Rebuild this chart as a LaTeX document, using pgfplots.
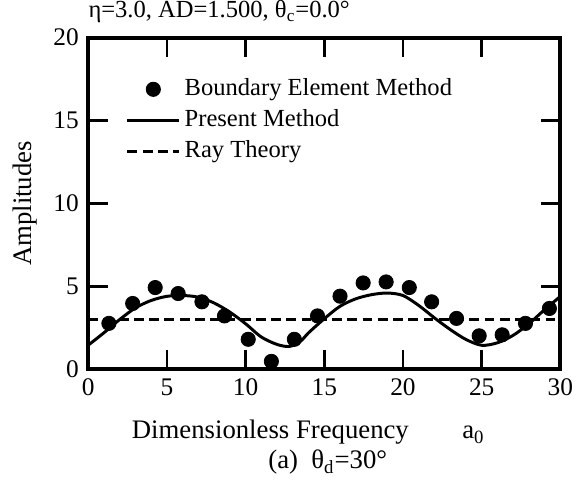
\documentclass[border=0pt]{standalone}
\usepackage{fontspec}
\setmainfont{Liberation Serif}
\usepackage{pgfplots}
\pgfplotsset{compat=1.18}
\pgfplotsset{
  linelegend/.style={legend image code/.code={\draw[##1] (0cm,0cm) -- (0.92cm,0cm);}},
  dotlegend/.style={legend image code/.code={\draw[##1] plot coordinates {(0.46cm,0cm)};}},
}
\begin{document}
\fontsize{13.5}{16}\selectfont
\begin{tikzpicture}
\begin{axis}[name=ax,
  scale only axis,
  width=238.5pt, height=167.5pt,
  xmin=0, xmax=30, ymin=0, ymax=20,
  xtick={0,5,...,30}, ytick={0,5,...,20},
  tick align=inside,
  major tick length=10pt,
  every tick/.style={line width=1.3pt, black},
  axis line style={line width=2pt},
  minor tick num=0,
  /pgf/number format/assume math mode=true,
  tick label style={font=\fontsize{12.8}{15}\selectfont},
  clip=false,
  xlabel={Dimensionless Frequency\hspace{2.0em}a\textsubscript{0}},
  xlabel style={at={(axis description cs:0.466,-0.19)}, anchor=center},
  ylabel={Amplitudes},
  ylabel style={at={(axis description cs:-0.134,0.5)}, anchor=center},
  legend style={draw=none, fill=none, at={(axis description cs:0.075,0.895)}, anchor=north west,
    row sep=1pt, font=\fontsize{12.4}{15}\selectfont, inner sep=1pt},
  legend cell align=left,
]
\addplot[only marks, mark=*, mark size=3.6pt, black, dotlegend]
coordinates {
(1.32,2.77) (2.83,3.97) (4.26,4.93) (5.72,4.57) (7.23,4.07) (8.66,3.22)
(10.17,1.81) (11.64,0.48) (13.1,1.81) (14.57,3.22) (16.0,4.41) (17.47,5.21)
(18.93,5.27) (20.4,4.93) (21.82,4.07) (23.4,3.07) (24.84,2.02) (26.3,2.08)
(27.78,2.77) (29.3,3.67)
};
\addlegendentry{Boundary Element Method}
\addplot[black, line width=1.5pt, smooth, no marks, linelegend] coordinates {
(0,1.45) (1,2.2) (2,3.0) (3,3.7) (4,4.15) (5,4.4) (6,4.45) (7,4.35) (8,4.0)
(9,3.45) (10,2.75) (11,1.95) (12,1.5) (12.8,1.38) (13.5,1.7) (14,2.2) (15,3.05)
(16,3.8) (17,4.25) (18,4.5) (19,4.6) (20,4.45) (21,3.85) (22,3.1) (23,2.4)
(24,1.8) (25,1.45) (26,1.6) (27,2.05) (28,2.75) (29,3.6) (30,4.4)
};
\addlegendentry{Present Method}
\addplot[black, line width=1.5pt, dash pattern=on 5pt off 2.7pt, no marks, linelegend] coordinates {
(0,3.0) (30,3.0)
};
\addlegendentry{Ray Theory}
\end{axis}
\node[anchor=west, inner sep=0pt, font=\fontsize{12.4}{15}\selectfont]
  at ([yshift=13pt]ax.north west) {η=3.0, AD=1.500, θ\textsubscript{c}=0.0°};
\node[anchor=center, inner sep=0pt] at ([xshift=121pt,yshift=-47pt]ax.south west) {(a)\ \ θ\textsubscript{d}=30°};
\path ([xshift=-44.5pt,yshift=-62pt]ax.south west) rectangle ([xshift=8pt,yshift=19pt]ax.north east);
\end{tikzpicture}
\end{document}
